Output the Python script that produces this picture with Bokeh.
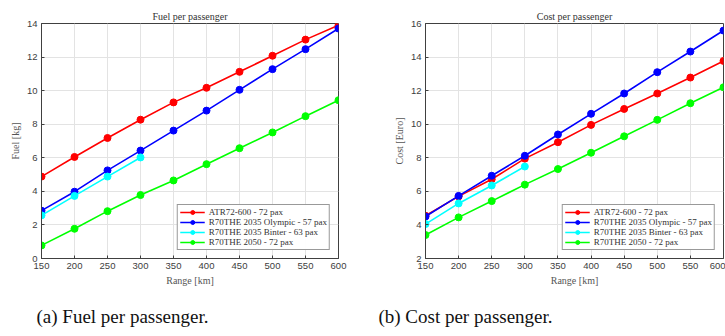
from bokeh.plotting import figure
from bokeh.layouts import row, column
from bokeh.models import Range1d, Label, FixedTicker
from bokeh.embed import file_html
from bokeh.resources import INLINE

# ---------------- data ----------------
range_km = [150, 200, 250, 300, 350, 400, 450, 500, 550, 600]
range_binter = [150, 200, 250, 300]

fuel_atr = [4.88, 6.05, 7.18, 8.27, 9.30, 10.17, 11.12, 12.08, 13.04, 13.89]
fuel_olympic = [2.85, 3.98, 5.25, 6.43, 7.62, 8.81, 10.05, 11.28, 12.47, 13.70]
fuel_binter = [2.57, 3.73, 4.88, 6.02]
fuel_2050 = [0.78, 1.77, 2.82, 3.78, 4.65, 5.62, 6.57, 7.51, 8.48, 9.43]

cost_atr = [4.55, 5.70, 6.72, 7.95, 8.93, 9.96, 10.91, 11.83, 12.78, 13.77]
cost_olympic = [4.50, 5.73, 6.93, 8.12, 9.39, 10.62, 11.83, 13.10, 14.33, 15.58]
cost_binter = [4.05, 5.28, 6.35, 7.48]
cost_2050 = [3.40, 4.45, 5.42, 6.40, 7.33, 8.30, 9.28, 10.26, 11.25, 12.20]

labels = ["ATR72-600 - 72 pax", "R70THE 2035 Olympic - 57 pax",
          "R70THE 2035 Binter - 63 pax", "R70THE 2050 - 72 pax"]
colors = ["#ff0000", "#0000ff", "#00ffff", "#00ff00"]
x_ticks = [150, 200, 250, 300, 350, 400, 450, 500, 550, 600]
fuel_ticks = [0, 2, 4, 6, 8, 10, 12, 14]
cost_ticks = [2, 4, 6, 8, 10, 12, 14, 16]
captions = ["(a) Fuel per passenger.", "(b) Cost per passenger."]

AX = "#404040"
SERIF = "Liberation Serif"
SANS = "Liberation Sans"


def style_axis(ax, label):
    ax.major_tick_in = 3
    ax.major_tick_out = 0
    ax.minor_tick_line_color = None
    ax.axis_line_color = AX
    ax.major_tick_line_color = AX
    ax.major_label_text_font = SANS
    ax.major_label_text_font_size = "9.5px"
    ax.major_label_text_color = AX
    ax.major_label_standoff = 4
    ax.axis_label = label
    ax.axis_label_text_font = SERIF
    ax.axis_label_text_font_size = "10px"
    ax.axis_label_text_font_style = "normal"
    ax.axis_label_text_color = "#555555"
    ax.axis_label_standoff = 3


def make_fig(title, ylabel, yr, yticks, xs_list, ys_list, bl, br, fw):
    p = figure(frame_width=fw, frame_height=235, output_backend="svg",
               toolbar_location=None, title=title,
               x_range=Range1d(150, 600), y_range=Range1d(*yr),
               min_border_left=bl, min_border_right=br,
               min_border_top=23, min_border_bottom=40)
    p.title.text_font = SERIF
    p.title.text_font_size = "10px"
    p.title.text_font_style = "normal"
    p.title.text_color = "#333333"
    p.title.align = "center"
    p.title.standoff = 3
    p.outline_line_color = AX
    p.background_fill_color = "white"
    p.border_fill_color = "white"

    p.xaxis[0].ticker = FixedTicker(ticks=x_ticks)
    p.yaxis[0].ticker = FixedTicker(ticks=yticks)
    style_axis(p.xaxis[0], "Range [km]")
    style_axis(p.yaxis[0], ylabel)
    p.xgrid.ticker = FixedTicker(ticks=x_ticks)
    p.ygrid.ticker = FixedTicker(ticks=yticks)
    p.xgrid.grid_line_color = "#e3e3e3"
    p.ygrid.grid_line_color = "#e3e3e3"

    for xs, ys, c, lab in zip(xs_list, ys_list, colors, labels):
        p.line(xs, ys, line_color=c, line_width=1.6, legend_label=lab)
        p.scatter(xs, ys, marker="circle", size=7, fill_color=c,
                  line_color=c, legend_label=lab)

    lg = p.legend[0]
    lg.location = "bottom_right"
    lg.margin = 8
    lg.padding = 2
    lg.spacing = 0
    lg.border_line_color = "#333333"
    lg.border_line_width = 1
    lg.label_text_font = SERIF
    lg.label_text_font_size = "9px"
    lg.label_text_color = "#333333"
    lg.glyph_width = 25
    lg.glyph_height = 10
    lg.label_height = 10
    lg.label_standoff = 4
    return p


p1 = make_fig("Fuel per passenger", "Fuel [kg]", (0, 14), fuel_ticks,
              [range_km, range_km, range_binter, range_km],
              [fuel_atr, fuel_olympic, fuel_binter, fuel_2050], 41, 42, 297)
p2 = make_fig("Cost per passenger", "Cost [Euro]", (2, 16), cost_ticks,
              [range_km, range_km, range_binter, range_km],
              [cost_atr, cost_olympic, cost_binter, cost_2050], 45, 2, 298)

cap = figure(width=725, height=30, output_backend="svg", toolbar_location=None,
             x_axis_type=None, y_axis_type=None, min_border=0,
             x_range=Range1d(0, 1), y_range=Range1d(0, 1))
cap.outline_line_color = None
cap.xgrid.visible = False
cap.ygrid.visible = False
for cx, txt in zip([122, 465], captions):
    cap.add_layout(Label(x=cx, y=12, x_units="screen", y_units="screen",
                         text=txt, text_font=SERIF, text_font_size="19px",
                         text_align="center", text_baseline="middle",
                         text_color="#111111"))

layout = column(row(p1, p2), cap)
open("out.html", "w").write(file_html(layout, INLINE))
